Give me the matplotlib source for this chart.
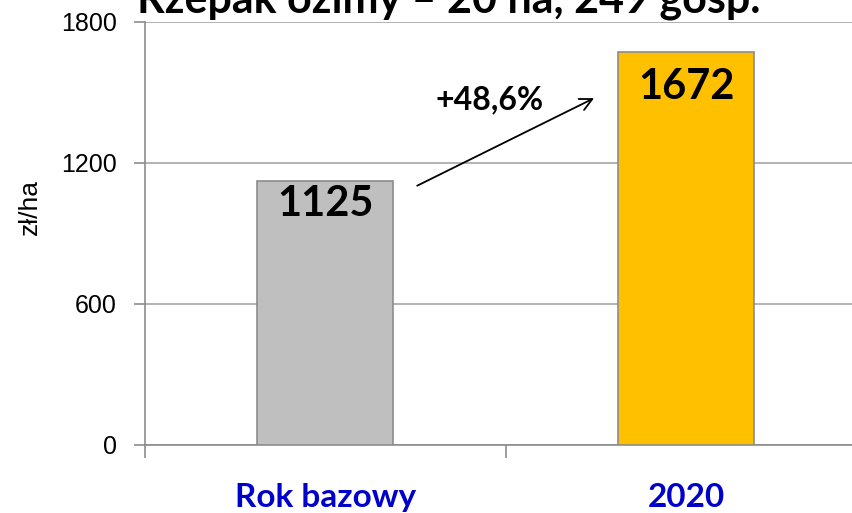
import matplotlib
matplotlib.use("Agg")
import matplotlib.pyplot as plt
import numpy as np

# chart data
categories = ["Rok bazowy", "2020"]
values = [1125, 1672]
barColors = ["#BFBFBF", "#FFC000"]
yTicks = [0, 600, 1200, 1800]
changeLabel = "+48,6%"
title = "Rzepak ozimy – 20 ha, 249 gosp."

fig = plt.figure(figsize=(8.52, 5.13), dpi=100)
ax = fig.add_axes([0.170, 0.1326, 0.847, 0.8246])

x = np.arange(len(categories))
ax.bar(x, values, width=0.377, color=barColors, edgecolor="#8C8C8C",
       linewidth=1.2, zorder=3)

# value labels sit a little below the top of each bar
for xi, v in zip(x, values):
    ax.text(xi, v * 0.91, str(v), ha="center", va="center", fontsize=30,
            fontweight="bold", family="Lato", color="black", zorder=4)

# arrow showing the change
ax.annotate("", xy=(0.752, 1481), xytext=(0.248, 1098),
            arrowprops=dict(arrowstyle="->", color="black", lw=1.3,
                            mutation_scale=22), zorder=5)
ax.text(0.456, 1468, changeLabel, ha="center", va="center", fontsize=23,
        fontweight="bold", family="Lato", zorder=5)

ax.set_xlim(-0.5, 1.5)
ax.set_ylim(0, 1800)
ax.set_yticks(yTicks)
ax.set_yticklabels([str(t) for t in yTicks], fontsize=18, family="Liberation Sans")
ax.yaxis.grid(True, color="#A6A6A6", linewidth=1.2, zorder=0)
ax.set_ylabel("zł/ha", fontsize=19, family="Liberation Sans")
ax.yaxis.set_label_coords(-0.143, 0.563)

ax.set_xticks([-0.5, 0.5])
ax.set_xticklabels(["", ""])
ax.tick_params(axis="x", direction="out", length=9, color="#8C8C8C", width=1.2)
ax.tick_params(axis="y", direction="out", length=8, color="#8C8C8C", width=1.2, pad=12)
for xi, cat in zip(x, categories):
    ax.text(xi, -0.147, cat, transform=ax.get_xaxis_transform(), ha="center",
            va="baseline", fontsize=24, fontweight="bold", family="Lato",
            color="#0000CC")

for side in ["top", "right"]:
    ax.spines[side].set_visible(False)
ax.spines["left"].set_color("#8C8C8C")
ax.spines["bottom"].set_color("#8C8C8C")
ax.spines["left"].set_linewidth(1.2)
ax.spines["bottom"].set_linewidth(1.2)

# title is mostly cut off at the top edge in the original
fig.text(0.527, 0.975, title, ha="center", va="baseline", fontsize=31,
         fontweight="bold", family="Lato")

fig.savefig("out.png", dpi=100)
